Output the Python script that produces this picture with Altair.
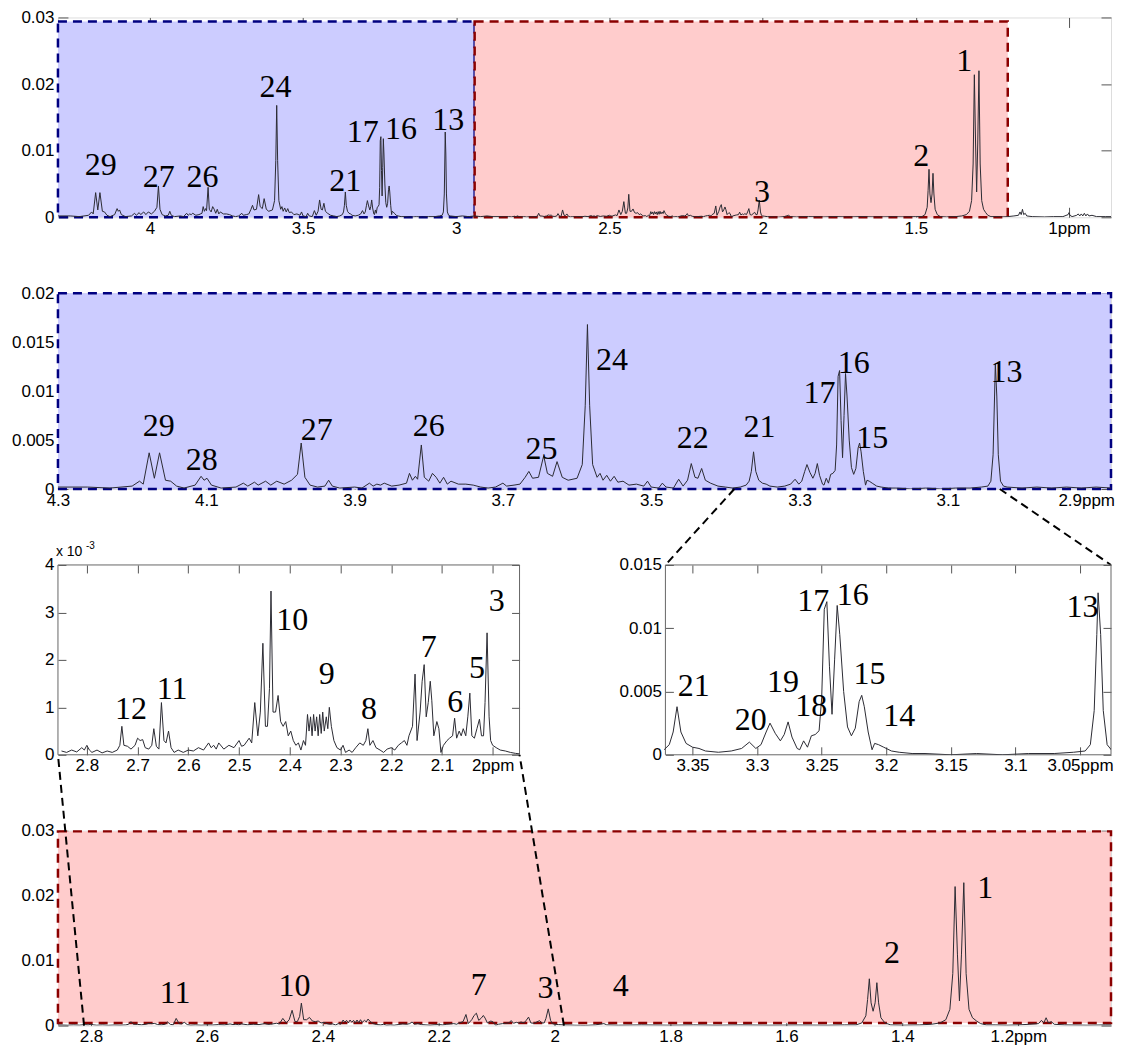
import altair as alt
import pandas as pd

# ---------------- spectrum (ppm, intensity) ----------------
region_a = [  # 4.30 - 3.38 ppm
    [4.30, 0.0002], [4.26, 0.0002], [4.23, 0.0001], [4.20, 0.0003], [4.19, 0.0008], [4.185, 0.0005],
    [4.177, 0.0037], [4.17, 0.0011], [4.163, 0.0037], [4.155, 0.0009], [4.148, 0.0008], [4.14, 0.0003],
    [4.13, 0.0001], [4.115, 0.0004], [4.107, 0.0013], [4.103, 0.0009], [4.099, 0.0011], [4.093, 0.0004],
    [4.08, 0.0001], [4.06, 0.0002], [4.05, 0.0006], [4.044, 0.0003], [4.035, 0.0007], [4.03, 0.0004],
    [4.02, 0.0008], [4.013, 0.0004], [4.005, 0.0008], [3.995, 0.0005], [3.985, 0.0009], [3.977, 0.0015],
    [3.972, 0.0047], [3.967, 0.0012], [3.96, 0.0004], [3.95, 0.0002], [3.94, 0.0003], [3.935, 0.0009],
    [3.93, 0.0003], [3.92, 0.0001], [3.90, 0.0002], [3.89, 0.0001], [3.88, 0.0006], [3.875, 0.0003],
    [3.87, 0.0005], [3.865, 0.0004], [3.86, 0.0006], [3.85, 0.0003], [3.84, 0.0004], [3.83, 0.0006],
    [3.826, 0.0016], [3.822, 0.0009], [3.818, 0.0013], [3.815, 0.0010], [3.81, 0.0045], [3.806, 0.0012],
    [3.80, 0.0008], [3.795, 0.0016], [3.79, 0.0012], [3.785, 0.0006], [3.78, 0.0012], [3.775, 0.0005],
    [3.77, 0.0008], [3.76, 0.0005], [3.75, 0.0005], [3.74, 0.0004], [3.73, 0.0002], [3.72, 0.0001],
    [3.71, 0.0002], [3.70, 0.0006], [3.695, 0.0003], [3.685, 0.0004], [3.677, 0.0005], [3.67, 0.0012],
    [3.665, 0.0018], [3.66, 0.0011], [3.652, 0.0012], [3.645, 0.0034], [3.64, 0.0016], [3.633, 0.0013],
    [3.627, 0.0028], [3.62, 0.0012], [3.612, 0.0009], [3.60, 0.0011], [3.593, 0.0025], [3.589, 0.0085],
    [3.586, 0.0168], [3.583, 0.0085], [3.579, 0.0025], [3.573, 0.0012], [3.569, 0.0016], [3.565, 0.0009],
    [3.56, 0.0014], [3.555, 0.0008], [3.55, 0.0013], [3.545, 0.0007], [3.538, 0.0008], [3.53, 0.0004],
    [3.52, 0.0005], [3.51, 0.0003], [3.505, 0.0008], [3.50, 0.0002], [3.49, 0.0001], [3.485, 0.0006],
    [3.48, 0.0002], [3.47, 0.0001], [3.463, 0.0010], [3.457, 0.0003], [3.451, 0.0009], [3.446, 0.0026],
    [3.441, 0.0012], [3.437, 0.0011], [3.432, 0.0021], [3.427, 0.0009], [3.42, 0.0006], [3.41, 0.0003],
    [3.40, 0.0002], [3.39, 0.0001], [3.38, 0.0002],
]
region_b = [  # 3.372 - 3.02 ppm
    [3.372, 0.0004], [3.368, 0.0008], [3.365, 0.0018], [3.362, 0.0038], [3.359, 0.0018], [3.355, 0.0009],
    [3.35, 0.0006], [3.345, 0.0005], [3.34, 0.0003], [3.33, 0.0002], [3.32, 0.0003], [3.312, 0.0005],
    [3.306, 0.0010], [3.301, 0.0005], [3.297, 0.0008], [3.293, 0.0018], [3.29, 0.0025], [3.286, 0.0017],
    [3.282, 0.0011], [3.279, 0.0016], [3.276, 0.0026], [3.273, 0.0014], [3.269, 0.0005], [3.267, 0.0004],
    [3.264, 0.0011], [3.261, 0.0006], [3.258, 0.0015], [3.255, 0.0016], [3.252, 0.0019], [3.25, 0.0045],
    [3.248, 0.0115], [3.246, 0.0121], [3.244, 0.0070], [3.242, 0.0032], [3.24, 0.0075], [3.238, 0.0118],
    [3.236, 0.0095], [3.233, 0.0050], [3.23, 0.0022], [3.227, 0.0015], [3.224, 0.0021], [3.221, 0.0042],
    [3.219, 0.0047], [3.217, 0.0038], [3.214, 0.0018], [3.211, 0.0004], [3.209, 0.0009], [3.206, 0.0008],
    [3.202, 0.0006], [3.196, 0.0003], [3.19, 0.0002], [3.18, 0.0001], [3.17, 0.0001], [3.15, 0.0000],
    [3.13, 0.0001], [3.11, 0.0000], [3.09, 0.0001], [3.07, 0.0001], [3.055, 0.0002], [3.046, 0.0003],
    [3.042, 0.0008], [3.039, 0.0035], [3.037, 0.0095], [3.036, 0.0128], [3.034, 0.0095], [3.032, 0.0035],
    [3.029, 0.0008], [3.025, 0.0003], [3.02, 0.0002],
]
region_c = [  # 3.00 - 2.86 ppm
    [3.00, 0.0001], [2.98, 0.0002], [2.96, 0.0001], [2.94, 0.0002], [2.92, 0.0001], [2.90, 0.0002],
    [2.88, 0.0001], [2.86, 0.0001],
]
region_d = [  # 2.85 - 1.947 ppm
    [2.85, 0.00008], [2.84, 0.00005], [2.83, 0.0001], [2.82, 0.00006], [2.81, 0.00015], [2.805, 0.0001],
    [2.80, 0.0002], [2.795, 0.0001], [2.79, 0.00005], [2.78, 0.0001], [2.77, 0.00004], [2.76, 0.00008],
    [2.75, 0.00005], [2.74, 0.0001], [2.735, 0.0002], [2.731, 0.0006], [2.727, 0.0002], [2.72, 0.00018],
    [2.713, 0.00012], [2.705, 0.0002], [2.70, 0.00035], [2.695, 0.0003], [2.69, 0.00032], [2.685, 0.00015],
    [2.678, 0.00012], [2.672, 0.0002], [2.668, 0.00055], [2.663, 0.00018], [2.658, 0.00012], [2.653, 0.0011],
    [2.648, 0.0003], [2.644, 0.00025], [2.639, 0.0005], [2.634, 0.00015], [2.628, 0.00005], [2.62, 0.0001],
    [2.61, 0.00005], [2.60, 0.0001], [2.59, 0.00008], [2.58, 0.00015], [2.57, 0.0001], [2.56, 0.00025],
    [2.555, 0.00015], [2.55, 0.0002], [2.545, 0.00012], [2.54, 0.00025], [2.53, 0.00012], [2.52, 0.0002],
    [2.51, 0.00015], [2.50, 0.0003], [2.495, 0.00018], [2.49, 0.0002], [2.48, 0.00035], [2.475, 0.00025],
    [2.469, 0.0011], [2.463, 0.0004], [2.458, 0.0009], [2.453, 0.00235], [2.448, 0.0006], [2.444, 0.0006],
    [2.44, 0.0014], [2.437, 0.00345], [2.433, 0.0009], [2.428, 0.0009], [2.423, 0.00125], [2.418, 0.0007],
    [2.413, 0.0006], [2.408, 0.0007], [2.403, 0.0004], [2.398, 0.0005], [2.393, 0.0003], [2.388, 0.0002],
    [2.383, 0.00025], [2.378, 0.0001], [2.373, 0.0003], [2.369, 0.0002], [2.365, 0.00085], [2.362, 0.0005],
    [2.359, 0.0008], [2.356, 0.0004], [2.353, 0.00085], [2.35, 0.0005], [2.347, 0.0008], [2.344, 0.0004],
    [2.341, 0.00085], [2.338, 0.00045], [2.335, 0.0009], [2.332, 0.0005], [2.328, 0.0008], [2.325, 0.00055],
    [2.322, 0.0010], [2.318, 0.0006], [2.313, 0.0003], [2.307, 0.00015], [2.30, 0.0001], [2.295, 0.0002],
    [2.29, 0.00005], [2.283, 0.0001], [2.277, 0.00005], [2.27, 0.00015], [2.262, 0.00025], [2.255, 0.0002],
    [2.25, 0.0003], [2.246, 0.00055], [2.242, 0.0002], [2.236, 0.0003], [2.23, 0.00015], [2.222, 0.0001],
    [2.215, 0.00005], [2.208, 0.00012], [2.20, 0.00015], [2.193, 0.0001], [2.186, 0.0002], [2.18, 0.00025],
    [2.174, 0.0003], [2.169, 0.0002], [2.165, 0.0004], [2.158, 0.0006], [2.153, 0.0017], [2.149, 0.0003],
    [2.143, 0.0009], [2.139, 0.00155], [2.135, 0.0019], [2.131, 0.0008], [2.127, 0.0011], [2.123, 0.00155],
    [2.12, 0.00115], [2.116, 0.0004], [2.11, 0.0007], [2.106, 0.00055], [2.102, 0.00005], [2.097, 0.0002],
    [2.09, 0.0003], [2.085, 0.00035], [2.079, 0.0004], [2.075, 0.00077], [2.071, 0.00035], [2.066, 0.0005],
    [2.062, 0.0004], [2.058, 0.00055], [2.053, 0.0004], [2.049, 0.0008], [2.045, 0.0013], [2.041, 0.0004],
    [2.036, 0.00035], [2.031, 0.00055], [2.026, 0.00075], [2.022, 0.0004], [2.018, 0.0004], [2.015, 0.0011],
    [2.011, 0.00257], [2.007, 0.0008], [2.004, 0.0003], [2.0, 0.0002], [1.993, 0.00015], [1.985, 0.0001],
    [1.975, 0.00008], [1.965, 0.00005], [1.955, 0.00003], [1.947, 0.00002],
]
region_e = [  # 1.93 - 1.35 ppm
    [1.93, 0.0001], [1.915, 0.0003], [1.91, 0.0001], [1.89, 0.00005], [1.85, 0.0001], [1.80, 0.00005],
    [1.76, 0.0001], [1.72, 0.00005], [1.68, 0.0001], [1.63, 0.00005], [1.58, 0.00008], [1.53, 0.00005],
    [1.50, 0.0001], [1.48, 0.0001], [1.47, 0.0004], [1.463, 0.0015], [1.46, 0.0040], [1.457, 0.0072],
    [1.454, 0.0035], [1.4505, 0.0022], [1.447, 0.0035], [1.444, 0.0066], [1.441, 0.0035], [1.437, 0.0012],
    [1.43, 0.0004], [1.42, 0.0001], [1.40, 0.00005], [1.37, 0.0001], [1.35, 0.0002],
]
region_f = [  # 1.335 - 0.84 ppm
    [1.335, 0.0004], [1.325, 0.0009], [1.318, 0.0025], [1.313, 0.0080], [1.309, 0.0214], [1.305, 0.0110],
    [1.3015, 0.0038], [1.298, 0.0110], [1.294, 0.0220], [1.29, 0.0080], [1.285, 0.0025], [1.279, 0.0012],
    [1.272, 0.0007], [1.265, 0.0003], [1.255, 0.0001], [1.24, 0.0001], [1.22, 0.00005], [1.20, 0.0001],
    [1.18, 0.0002], [1.165, 0.0003], [1.16, 0.0008], [1.156, 0.0004], [1.152, 0.0012], [1.148, 0.0004],
    [1.143, 0.0006], [1.138, 0.0002], [1.12, 0.0001], [1.08, 0.00005], [1.05, 0.0001], [1.02, 0.0001],
    [1.003, 0.0004], [1.0, 0.0007], [0.997, 0.0003], [0.99, 0.0001], [0.975, 0.0003], [0.97, 0.0005],
    [0.965, 0.0002], [0.96, 0.0005], [0.955, 0.0002], [0.95, 0.0006], [0.945, 0.0002], [0.94, 0.0005],
    [0.935, 0.0002], [0.925, 0.0003], [0.91, 0.0001], [0.88, 0.0001], [0.85, 0.0001], [0.84, 0.0001],
]

# ---------------- peak labels (text, ppm, intensity at text baseline) ----------------
p1_labels = [["29", 4.16, 0.0064], ["27", 3.971, 0.0045], ["26", 3.828, 0.0045], ["24", 3.59, 0.018],
             ["21", 3.362, 0.0039], ["17", 3.305, 0.0113], ["16", 3.18, 0.0117], ["13", 3.026, 0.0131],
             ["3", 2.002, 0.0023], ["2", 1.482, 0.0077], ["1", 1.342, 0.0219]]
p2_labels = [["29", 4.164, 0.0054], ["28", 4.106, 0.0019], ["27", 3.951, 0.0050], ["26", 3.80, 0.0054],
             ["25", 3.648, 0.0031], ["24", 3.553, 0.0122], ["22", 3.444, 0.0042], ["21", 3.354, 0.0053],
             ["17", 3.273, 0.0088], ["16", 3.227, 0.0118], ["15", 3.202, 0.0042], ["13", 3.021, 0.0109]]
p3l_labels = [["12", 2.713, 0.00075], ["11", 2.632, 0.00118], ["10", 2.395, 0.00263], ["9", 2.327, 0.00149],
              ["8", 2.244, 0.00075], ["7", 2.126, 0.00206], ["6", 2.074, 0.00091], ["5", 2.031, 0.00161],
              ["3", 1.992, 0.00304]]
p3r_labels = [["21", 3.349, 0.00465], ["20", 3.305, 0.00196], ["19", 3.280, 0.0050], ["18", 3.258, 0.0031],
              ["17", 3.2566, 0.0114], ["16", 3.226, 0.0118], ["15", 3.213, 0.0056], ["14", 3.19, 0.0023],
              ["13", 3.048, 0.0109]]
p5_labels = [["11", 2.655, 0.0034], ["10", 2.449, 0.0045], ["7", 2.131, 0.0047], ["3", 2.016, 0.0043],
             ["4", 1.886, 0.0046], ["2", 1.418, 0.0096], ["1", 1.257, 0.0196]]

# highlighted regions: x1, x2, y1, y2, fill, stroke
p1_regions = [[4.30, 2.94, 0.0, 0.0294, "#CCCCFF", "#000080"],
              [2.94, 1.20, 0.0, 0.0294, "#FFCCCC", "#8B0000"]]
p2_regions = [[4.30, 2.880, 0.0, 0.02, "#CCCCFF", "#000080"]]
p5_regions = [[2.857, 1.040, 0.0004, 0.0299, "#FFCCCC", "#8B0000"]]

# ---------------- build ----------------
spec = pd.DataFrame(region_a + region_b + region_c + region_d + region_e + region_f, columns=["ppm", "val"])

SANS = "Liberation Sans Narrow, Liberation Sans, Arial, sans-serif"
SERIF = "Liberation Serif, Times New Roman, serif"
TICK_COL = "#555555"
W_FULL = 1054
SP_V = 76


def lab_expr(last_val, last_txt, scale=1):
    return (f"abs(datum.value - {last_val}) < 1e-9 ? '{last_txt}' : "
            f"format(datum.value * {scale}, '~g')")


def sub_layers(xdom, ydom, xvals, xlast, yvals, labels, regions=None, ylab_scale=1, tick=10,
               font_size=32, xrange=None, off_l=None, off_r=None, frame=False, filt=False,
               last_shift=0, extras=()):
    xkw = dict(domain=[xdom[1], xdom[0]], reverse=True, nice=False, zero=False)
    if xrange is not None:
        xkw["range"] = list(xrange)
    xs = alt.Scale(**xkw)
    ys = alt.Scale(domain=list(ydom), nice=False, zero=False)
    common = dict(tickSize=tick, domain=False, grid=False, title=None,
                  tickColor=TICK_COL, labelFont=SANS, labelFontSize=17, labelColor="black")
    bkw = {}
    if last_shift:
        bkw["labelOffset"] = {"condition": {"test": f"abs(datum.value - {xlast[0]}) < 1e-9",
                                            "value": last_shift}, "value": 0}
    ax_b = alt.Axis(orient="bottom", offset=-tick, values=xvals, labelExpr=lab_expr(xlast[0], xlast[1]),
                    labelPadding=3, labelFlush=False, labelOverlap=False, **bkw, **common)
    ax_t = alt.Axis(orient="top", offset=-tick, values=xvals, labels=False, **common)
    ax_l = alt.Axis(orient="left", offset=(-tick if off_l is None else off_l), values=yvals,
                    labelExpr=f"format(datum.value * {ylab_scale}, '~g')",
                    labelPadding=4, labelFlush=False, labelOverlap=False, **common)
    ax_r = alt.Axis(orient="right", offset=(-tick if off_r is None else off_r), values=yvals,
                    labels=False, **common)

    data = spec
    if filt:
        data = spec[(spec.ppm <= xdom[0] + 0.0015) & (spec.ppm >= xdom[1] - 0.0015)]

    layers = []
    if regions:
        rdf = pd.DataFrame(regions, columns=["x1", "x2", "y1", "y2", "fill", "stroke"])
        layers.append(
            alt.Chart(rdf).mark_rect(strokeDash=[9, 6], strokeWidth=2.5).encode(
                x=alt.X("x1:Q", scale=xs, axis=None), x2="x2:Q",
                y=alt.Y("y1:Q", scale=ys, axis=None), y2="y2:Q",
                fill=alt.Fill("fill:N", scale=None), stroke=alt.Stroke("stroke:N", scale=None)))
    if frame:
        fdf = pd.DataFrame({"x1": [xdom[0]], "x2": [xdom[1]], "y1": [ydom[0]], "y2": [ydom[1]]})
        layers.append(
            alt.Chart(fdf).mark_rect(fillOpacity=0, stroke="#666666", strokeWidth=1).encode(
                x=alt.X("x1:Q", scale=xs, axis=None), x2="x2:Q",
                y=alt.Y("y1:Q", scale=ys, axis=None), y2="y2:Q"))
    layers.append(
        alt.Chart(data).mark_line(clip=True, color="#2b2b33", strokeWidth=1).encode(
            x=alt.X("ppm:Q", scale=xs, axis=ax_b), y=alt.Y("val:Q", scale=ys, axis=ax_l)))
    layers.append(
        alt.Chart(data).mark_line(clip=True, opacity=0).encode(
            x=alt.X("ppm:Q", scale=xs, axis=ax_t), y=alt.Y("val:Q", scale=ys, axis=ax_r)))
    ldf = pd.DataFrame(labels, columns=["t", "x", "y"])
    layers.append(
        alt.Chart(ldf).mark_text(font=SERIF, fontSize=font_size, baseline="alphabetic",
                                 align="center", color="black").encode(
            x=alt.X("x:Q", scale=xs, axis=None), y=alt.Y("y:Q", scale=ys, axis=None), text="t:N"))
    for ex in extras:
        layers.append(ex(xs, ys))
    return layers


def connector(x_ppm, y_px, x2_px, y2_px):
    def build(xs, ys):
        return alt.Chart(pd.DataFrame({"x": [x_ppm]})).mark_rule(
            strokeDash=[8, 5], strokeWidth=2, color="black").encode(
            x=alt.X("x:Q", scale=xs, axis=None), x2=alt.value(x2_px),
            y=alt.value(y_px), y2=alt.value(y2_px))
    return build


def exponent_note(xs, ys):
    base = alt.Chart(pd.DataFrame({"t": ["x 10"]})).mark_text(
        font=SANS, fontSize=14, align="left", baseline="alphabetic", color="black").encode(
        x=alt.value(-2), y=alt.value(-9), text="t:N")
    sup = alt.Chart(pd.DataFrame({"t": ["-3"]})).mark_text(
        font=SANS, fontSize=10, align="left", baseline="alphabetic", color="black").encode(
        x=alt.value(28), y=alt.value(-16), text="t:N")
    return base + sup


def panel(w, h, *args, **kw):
    return alt.layer(*sub_layers(*args, **kw)).resolve_axis(
        x="independent", y="independent").properties(width=w, height=h)


p1 = panel(W_FULL, 200, (4.30, 0.863), (0, 0.03), [4, 3.5, 3, 2.5, 2, 1.5, 1], (1, "1ppm"),
           [0, 0.01, 0.02, 0.03], p1_labels, p1_regions)

p2 = panel(W_FULL, 196, (4.30, 2.880), (0, 0.02), [4.3, 4.1, 3.9, 3.7, 3.5, 3.3, 3.1, 2.9], (2.9, "2.9ppm"),
           [0, 0.005, 0.01, 0.015, 0.02], p2_labels, p2_regions, last_shift=-10,
           extras=[connector(3.388, 196, 608, 196 + SP_V), connector(3.030, 196, W_FULL, 196 + SP_V)])

# third row: two sub-panels in one view, each with its own scales and pixel range
L_W, R_X0 = 462, 608
left_layers = sub_layers((2.857, 1.947), (0, 0.004), [2.8, 2.7, 2.6, 2.5, 2.4, 2.3, 2.2, 2.1, 2.0],
                         (2.0, "2ppm"), [0, 0.001, 0.002, 0.003, 0.004], p3l_labels, ylab_scale=1000,
                         tick=8, xrange=(0, L_W), off_r=-(W_FULL - L_W) - 8, frame=True, filt=True,
                         extras=[exponent_note])
right_layers = sub_layers((3.371, 3.026), (0, 0.015), [3.35, 3.3, 3.25, 3.2, 3.15, 3.1, 3.05],
                          (3.05, "3.05ppm"), [0, 0.005, 0.01, 0.015], p3r_labels, tick=8,
                          xrange=(R_X0, W_FULL), off_l=-(R_X0 + 8), frame=True, filt=True)
p3 = alt.layer(*left_layers, *right_layers).resolve_scale(
    x="independent", y="independent").resolve_axis(x="independent", y="independent").properties(
    width=W_FULL, height=190, view=alt.ViewBackground(strokeOpacity=0))

p5 = panel(W_FULL, 195, (2.857, 1.040), (0, 0.03), [2.8, 2.6, 2.4, 2.2, 2.0, 1.8, 1.6, 1.4, 1.2], (1.2, "1.2ppm"),
           [0, 0.01, 0.02, 0.03], p5_labels, p5_regions,
           extras=[connector(2.812, 195, 0, -SP_V), connector(1.984, 195, L_W, -SP_V)])

chart = alt.vconcat(p1, p2, p3, p5, spacing=SP_V, bounds="flush").properties(
    padding={"left": 2, "top": -1, "right": 0, "bottom": 0}
).configure_view(stroke="#666666", strokeWidth=1).configure(background="white")

chart.save("out.html", embed_options={"renderer": "svg", "actions": False})
